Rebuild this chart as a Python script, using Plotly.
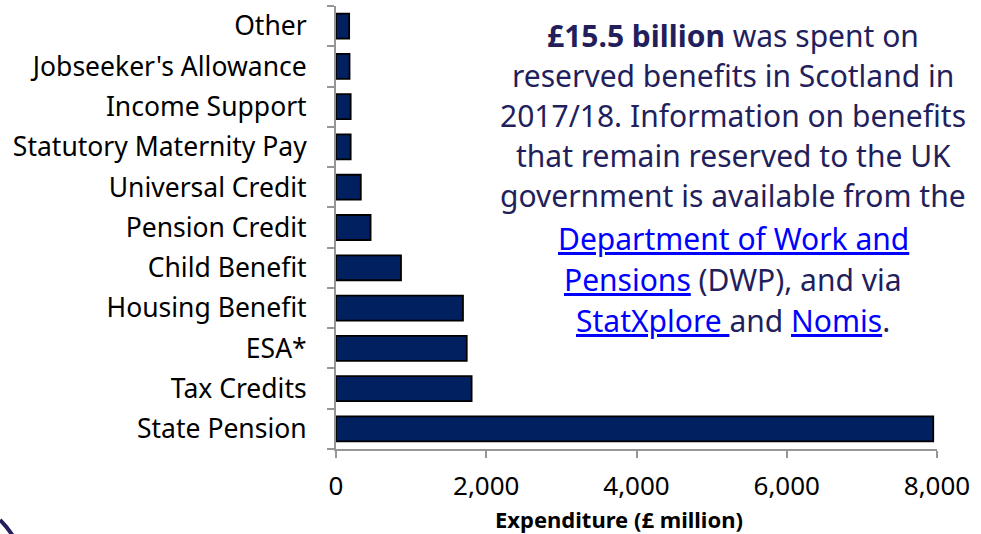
import plotly.graph_objects as go

categories = ["State Pension", "Tax Credits", "ESA*", "Housing Benefit", "Child Benefit",
              "Pension Credit", "Universal Credit", "Statutory Maternity Pay",
              "Income Support", "Jobseeker's Allowance", "Other"]
expenditure = [7950, 1805, 1740, 1690, 865, 460, 330, 195, 195, 180, 175]
x_ticks = [0, 2000, 4000, 6000, 8000]

FONT = "Noto Sans"
NAVY_TXT = "#231F5C"
LINK = "#0000FF"

def link(txt):
    return f'<span style="color:{LINK};text-decoration:underline">{txt}</span>'

text_lines = [
    "<b>£15.5 billion</b> was spent on",
    "reserved benefits in Scotland in",
    "2017/18. Information on benefits",
    "that remain reserved to the UK",
    "government is available from the",
    link("Department of Work and"),
    link("Pensions") + " (DWP), and via",
    link("StatXplore ") + "and " + link("Nomis") + ".",
]
line_y_px = [35, 75, 115, 155, 196, 238, 279, 320]

fig = go.Figure()
fig.add_trace(go.Bar(
    y=categories, x=expenditure, orientation="h",
    marker=dict(color="#002060", line=dict(color="#000000", width=1.8)),
    hoverinfo="x+y",
))

W, H = 981, 534
L, R, T, B = 336, 44, 6, 85
pw, ph = W - L - R, H - T - B

def px_to_paper(xp, yp):
    return (xp - L) / pw, (H - B - yp) / ph

annotations = []
for ln, yp in zip(text_lines, line_y_px):
    xx, yy = px_to_paper(733, yp)
    annotations.append(dict(text=ln, x=xx, y=yy, xref="paper", yref="paper",
                            showarrow=False, xanchor="center", yanchor="middle",
                            font=dict(family=FONT, size=30, color=NAVY_TXT)))
tx, ty = px_to_paper(619, 519)
annotations.append(dict(text="<b>Expenditure (£ million)</b>", x=tx, y=ty, xref="paper", yref="paper",
                        showarrow=False, xanchor="center", yanchor="middle",
                        font=dict(family=FONT, size=22, color="#000000")))

# decorative frame corner at bottom-left
x0, y0 = px_to_paper(0, 520)
x1, y1 = px_to_paper(7, 527)
x2, y2 = px_to_paper(13, 536)
shapes = [dict(type="path", xref="paper", yref="paper",
               path=f"M {x0} {y0} Q {x1} {y1} {x2} {y2}",
               line=dict(color="#231F5C", width=4))]

fig.update_layout(
    width=W, height=H,
    margin=dict(l=L, r=R, t=T, b=B),
    paper_bgcolor="white", plot_bgcolor="white",
    bargap=0.38,
    showlegend=False,
    font=dict(family=FONT, color="#000000"),
    annotations=annotations,
    shapes=shapes,
    xaxis=dict(range=[0, 8000], tickvals=x_ticks, tickformat=",",
               showgrid=False, zeroline=False, showline=True, linecolor="#969696", linewidth=2,
               ticks="outside", ticklen=7, tickwidth=2, tickcolor="#969696",
               tickfont=dict(family=FONT, size=26, color="#000000"),
               ticklabelstandoff=6),
    yaxis=dict(showgrid=False, zeroline=False, showline=True, linecolor="#969696", linewidth=2,
               ticks="outside", ticklen=7, tickwidth=2, tickcolor="#969696",
               tickson="boundaries",
               tickfont=dict(family=FONT, size=26.5, color="#000000"),
               ticklabelstandoff=22),
)

fig.write_html("out.html", config={"displayModeBar": False},
               post_script="document.body.style.margin='0';document.body.style.overflow='hidden';")
